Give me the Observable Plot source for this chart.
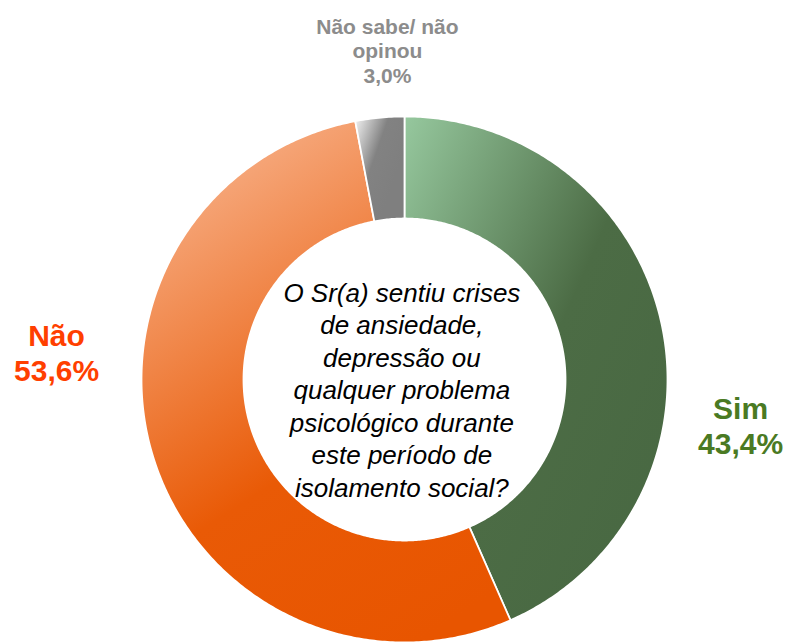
<!DOCTYPE html>
<html>
<head>
<meta charset="utf-8">
<script src="https://cdn.jsdelivr.net/npm/d3@7"></script>
<script src="https://cdn.jsdelivr.net/npm/@observablehq/plot@0.6"></script>
<style>
  html, body { margin: 0; padding: 0; background: #fff; }
  #chart svg { display: block; }
</style>
</head>
<body>
<div id="chart"></div>
<script>
// ---- data ----
const categories = ["Sim", "Não", "Não sabe/ não opinou"];
const values = [43.4, 53.6, 3.0];
const valueLabels = ["43,4%", "53,6%", "3,0%"];
const labelNames = ["Sim", "Não", "Não sabe/ não\nopinou"];
const question = "O Sr(a) sentiu crises\nde ansiedade,\ndepressão ou\nqualquer problema\npsicológico durante\neste período de\nisolamento social?";

// styles
const gradIds = ["gSim", "gNao", "gNs"];
const labelColors = ["#4a7a23", "#ff3f00", "#8c8c8c"];
const labelFontSize = [30, 30, 21];
const labelLineHeight = [1.17, 1.17, 1.19];
// label anchor positions in chart units (radius = 1)
const labelPos = [[1.278, -0.175], [-1.323, 0.103], [-0.065, 1.251]];

const innerRatio = 161 / 263;

// build slice outlines from values
const pie = d3.pie().sort(null).value(d => d)(values);
const slicePoints = [];
pie.forEach((p, i) => {
  const n = Math.max(8, Math.ceil((p.endAngle - p.startAngle) / 0.01));
  for (let k = 0; k <= n; k++) {
    const a = p.startAngle + (p.endAngle - p.startAngle) * k / n;
    slicePoints.push({cat: categories[i], i, x: Math.sin(a), y: Math.cos(a)});
  }
  for (let k = n; k >= 0; k--) {
    const a = p.startAngle + (p.endAngle - p.startAngle) * k / n;
    slicePoints.push({cat: categories[i], i, x: innerRatio * Math.sin(a), y: innerRatio * Math.cos(a)});
  }
});

const labels = categories.map((c, i) => ({
  text: labelNames[i] + "\n" + valueLabels[i],
  x: labelPos[i][0], y: labelPos[i][1], i
}));

function defs() {
  const ns = "http://www.w3.org/2000/svg";
  const g = document.createElementNS(ns, "defs");
  g.innerHTML = `
    <linearGradient id="gSim" x1="0" y1="0" x2="1" y2="0.85">
      <stop offset="0" stop-color="#96c89e"/>
      <stop offset="0.55" stop-color="#4c6c45"/>
      <stop offset="1" stop-color="#486842"/>
    </linearGradient>
    <linearGradient id="gNao" x1="0.3" y1="0" x2="0.75" y2="1">
      <stop offset="0" stop-color="#f7ae85"/>
      <stop offset="0.6" stop-color="#e95a06"/>
      <stop offset="1" stop-color="#e85500"/>
    </linearGradient>
    <linearGradient id="gNs" x1="0" y1="0" x2="0.8" y2="0.6">
      <stop offset="0" stop-color="#f4f4f4"/>
      <stop offset="0.55" stop-color="#828282"/>
      <stop offset="1" stop-color="#7f7f7f"/>
    </linearGradient>`;
  return g;
}

const chart = Plot.plot({
  width: 789,
  height: 643,
  margin: 0,
  style: {background: "#fff", fontFamily: "'Liberation Sans', Arial, sans-serif"},
  x: {domain: [-1, 1], range: [141, 667], axis: null},
  y: {domain: [-1, 1], range: [642, 116], axis: null},
  marks: [
    defs,
    ...categories.map((c, i) => Plot.line(slicePoints.filter(d => d.i === i), {
      x: "x", y: "y", curve: "linear-closed",
      fill: `url(#${gradIds[i]})`, stroke: "white", strokeWidth: 1.8
    })),
    ...labels.map(l => Plot.text([l], {
      x: "x", y: "y", text: "text",
      fill: labelColors[l.i], fontSize: labelFontSize[l.i], fontWeight: "bold",
      lineHeight: labelLineHeight[l.i], textAnchor: "middle"
    })),
    Plot.text([question], {
      x: () => -0.01, y: () => -0.036, text: d => d,
      fill: "#000", fontSize: 26, fontStyle: "italic", lineHeight: 1.25, textAnchor: "middle"
    })
  ]
});
document.getElementById("chart").appendChild(chart);
</script>
</body>
</html>
